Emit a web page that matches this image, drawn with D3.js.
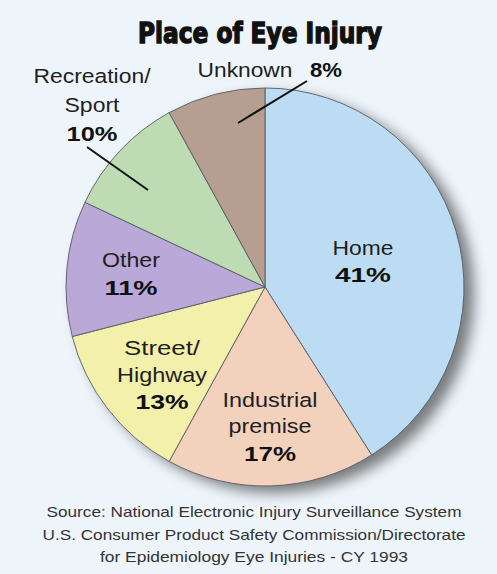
<!DOCTYPE html>
<html>
<head>
<meta charset="utf-8">
<script src="https://cdn.jsdelivr.net/npm/d3@7"></script>
<style>
  html, body { margin: 0; padding: 0; background: #ffffff; }
  svg { display: block; }
</style>
</head>
<body>
<div id="chart"></div>
<script>
// Place of Eye Injury - pie chart

const categories = ["Home", "Industrial premise", "Street/Highway", "Other", "Recreation/Sport", "Unknown"];
const values = [41, 17, 13, 11, 10, 8];
const colors = ["#bcdcf3", "#f3d2bd", "#f3f0ab", "#b9a8d8", "#bddcb3", "#b69f90"];
const labelLines = [["Home"], ["Industrial", "premise"], ["Street/", "Highway"], ["Other"], ["Recreation/", "Sport"], ["Unknown"]];
const sourceLines = [
    "Source: National Electronic Injury Surveillance System",
    "U.S. Consumer Product Safety Commission/Directorate",
    "for Epidemiology Eye Injuries - CY 1993"
];

const W = 497, H = 574;
const cx = 265, cy = 287, R = 199;

const svg = d3.select("#chart").append("svg")
    .attr("width", W)
    .attr("height", H);

// drop shadow
const defs = svg.append("defs");
const f = defs.append("filter").attr("id", "shadow")
    .attr("x", "-20%").attr("y", "-20%").attr("width", "140%").attr("height", "140%");
f.append("feGaussianBlur").attr("in", "SourceAlpha").attr("stdDeviation", 7);
f.append("feOffset").attr("dx", 10).attr("dy", 7).attr("result", "b");
f.append("feComponentTransfer").append("feFuncA").attr("type", "linear").attr("slope", 0.5);

// background
svg.append("rect")
    .attr("width", W).attr("height", H)
    .attr("fill", "#eef5fa");

// title
svg.append("text")
    .attr("x", 138).attr("y", 43)
    .attr("textLength", 244)
    .attr("lengthAdjust", "spacingAndGlyphs")
    .style("font-family", "'Liberation Sans Narrow', 'DejaVu Sans Condensed', sans-serif")
    .style("font-weight", "bold")
    .style("font-size", "29px")
    .attr("fill", "#111")
    .attr("stroke", "#111")
    .attr("stroke-width", 1.4)
    .text("Place of Eye Injury");

const pie = d3.pie().sort(null).value(d => d);
const arcs = pie(values);
const arc = d3.arc().innerRadius(0).outerRadius(R);

const g = svg.append("g").attr("transform", `translate(${cx},${cy})`);

// shadow circle
g.append("circle")
    .attr("r", R)
    .attr("fill", "#000")
    .attr("filter", "url(#shadow)");

g.selectAll("path.slice")
    .data(arcs)
    .join("path")
    .attr("class", "slice")
    .attr("d", arc)
    .attr("fill", (d, i) => colors[i])
    .attr("stroke", "#5a5a66")
    .attr("stroke-width", 0.9);

// label layout: x centre, first baseline, line step, widths per line
const labelLayout = [
    { x: 363, y: 255, step: 27, widths: [61], pctW: 56 },
    { x: 270, y: 407, step: 26, widths: [95, 83], pctW: 52 },
    { x: 162, y: 355, step: 27, widths: [76, 90], pctW: 53 },
    { x: 131, y: 267, step: 28, widths: [58], pctW: 53 },
    { x: 92, y: 83, step: 29, widths: [117, 55], pctW: 51 },
    { x: 245, y: 77, step: 0, widths: [95], pctW: 32 }
];

const labels = svg.append("g")
    .style("font-family", "'Liberation Sans', Arial, sans-serif")
    .attr("fill", "#1e1e1e");

labelLines.forEach((lines, i) => {
    const L = labelLayout[i];
    lines.forEach((t, j) => {
        labels.append("text")
            .attr("x", L.x - L.widths[j] / 2)
            .attr("y", L.y + j * L.step)
            .attr("textLength", L.widths[j])
            .attr("lengthAdjust", "spacingAndGlyphs")
            .style("font-size", "20.5px")
            .text(t);
    });
    const pct = values[i] + "%";
    let px, py;
    if (i === 5) { px = 310; py = L.y; }
    else { px = L.x - L.pctW / 2; py = L.y + lines.length * L.step + (i === 1 ? 2 : 0); }
    labels.append("text")
        .attr("x", px)
        .attr("y", py)
        .attr("textLength", L.pctW)
        .attr("lengthAdjust", "spacingAndGlyphs")
        .style("font-size", "20px")
        .style("font-weight", "bold")
        .attr("fill", "#111")
        .text(pct);
});

// leader lines for the outside labels
const leaders = [
    [[87, 147], [148, 190]],
    [[307, 81], [238, 123]]
];
svg.append("g").selectAll("line")
    .data(leaders)
    .join("line")
    .attr("x1", d => d[0][0]).attr("y1", d => d[0][1])
    .attr("x2", d => d[1][0]).attr("y2", d => d[1][1])
    .attr("stroke", "#111")
    .attr("stroke-width", 2);

// source
const srcW = [415, 423, 308];
svg.append("g").selectAll("text")
    .data(sourceLines)
    .join("text")
    .attr("x", (d, i) => 254 - srcW[i] / 2)
    .attr("y", (d, i) => 517 + i * 22.5)
    .attr("textLength", (d, i) => srcW[i])
    .attr("lengthAdjust", "spacingAndGlyphs")
    .style("font-family", "'Liberation Sans', Arial, sans-serif")
    .style("font-size", "15px")
    .attr("fill", "#333")
    .text(d => d);
</script>
</body>
</html>
